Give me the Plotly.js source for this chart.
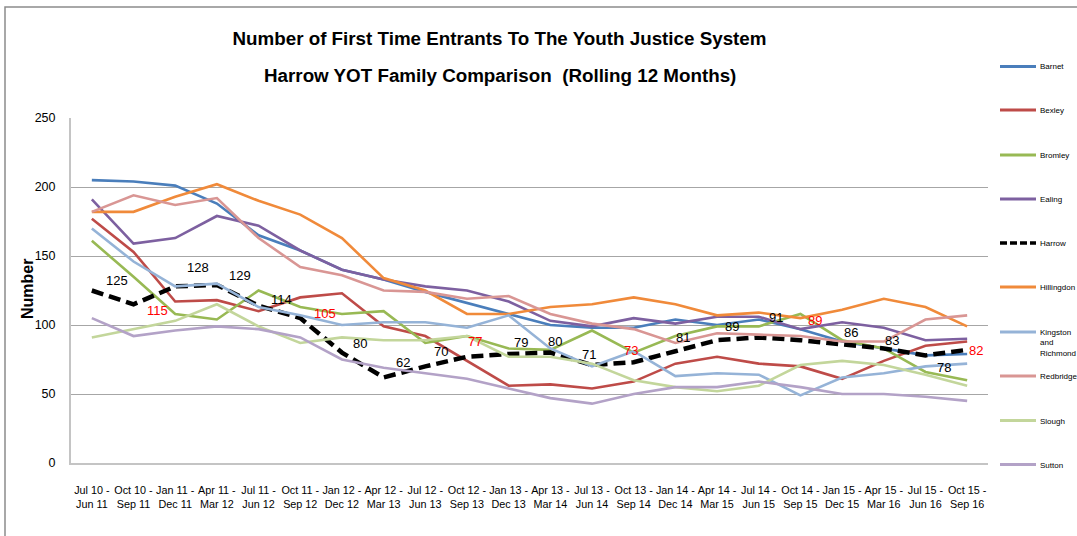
<!DOCTYPE html>
<html>
<head>
<meta charset="utf-8">
<script src="https://cdn.plot.ly/plotly-3.0.1.min.js"></script>
<style>html,body{margin:0;padding:0;background:#fff;}#chart{width:1077px;height:536px;}</style>
</head>
<body>
<div id="chart"></div>
<script>
// ---- data ----
const periodStart = ['Jul 10','Oct 10','Jan 11','Apr 11','Jul 11','Oct 11','Jan 12','Apr 12','Jul 12','Oct 12','Jan 13','Apr 13','Jul 13','Oct 13','Jan 14','Apr 14','Jul 14','Oct 14','Jan 15','Apr 15','Jul 15','Oct 15'];
const periodEnd = ['Jun 11','Sep 11','Dec 11','Mar 12','Jun 12','Sep 12','Dec 12','Mar 13','Jun 13','Sep 13','Dec 13','Mar 14','Jun 14','Sep 14','Dec 14','Mar 15','Jun 15','Sep 15','Dec 15','Mar 16','Jun 16','Sep 16'];

const barnet     = [205,204,201,188,165,154,140,133,124,116,108,100,98,98,104,100,104,97,88,83,78,79];
const bexley     = [177,153,117,118,110,120,123,99,92,74,56,57,54,59,72,77,72,70,61,74,85,88];
const bromley    = [161,135,108,104,125,113,108,110,87,92,83,82,96,80,92,99,99,108,89,83,66,60];
const ealing     = [191,159,163,179,172,154,140,133,128,125,117,103,99,105,101,106,106,97,102,98,89,90];
const harrow     = [125,115,128,129,114,105,80,62,70,77,79,80,71,73,81,89,91,89,86,83,78,82];
const hillingdon = [182,182,193,202,190,180,163,134,125,108,108,113,115,120,115,107,109,105,111,119,113,99];
const kingston   = [170,146,128,130,113,107,100,102,102,98,107,83,70,81,63,65,64,49,62,65,70,72];
const redbridge  = [182,194,187,192,163,142,136,125,124,119,121,108,101,97,87,94,93,92,88,88,104,107];
const slough     = [91,97,103,115,99,87,91,89,89,92,77,77,72,60,55,52,56,71,74,71,64,56];
const sutton     = [105,92,96,99,97,91,75,69,65,61,54,47,43,50,55,55,59,55,50,50,48,45];

const seriesNames = ['Barnet','Bexley','Bromley','Ealing','Harrow','Hillingdon','Kingston<br>and<br>Richmond','Redbridge','Slough','Sutton'];
const seriesValues = [barnet,bexley,bromley,ealing,harrow,hillingdon,kingston,redbridge,slough,sutton];

// ---- styles ----
const seriesColors = ['#4A7EBB','#BE4B48','#98B954','#7D60A0','#000000','#F08A3A','#95B3D7','#D99694','#C3D69B','#B3A2C7'];
const FONT = '"Liberation Sans", Arial, sans-serif';
// label offsets (px) for Harrow data labels: [dx, dy(down)]
const labelOffsets = [[25,-10],[24,6],[23,-19],[23,-9],[23,-6],[25,-5],[18,-9],[19,-15],[16,-15],[8,-15],[12,-11],[5,-11],[-3,-11],[-3,-12],[8,-14],[15,-14],[17,-20],[15,-20],[9,-12],[8,-8],[19,12],[9,1]];

const W = 1077, H = 536, ML = 71, MR = 89, MT = 118, MB = 73;
const PW = W - ML - MR, PH = H - MT - MB;
const px2x = p => (p - ML) / PW;
const px2y = p => (H - MB - p) / PH;

const cats = periodStart.map((s, i) => s + ' -<br>' + periodEnd[i]);

const traces = seriesValues.map((vals, i) => ({
  type: 'scatter', mode: 'lines',
  name: seriesNames[i].replace(/<br>/g, ' '),
  x: cats, y: vals,
  line: i === 4 ? {color: '#000', width: 4.5, dash: '12px,6px'} : {color: seriesColors[i], width: 2.6},
  hoverinfo: 'x+y+name', showlegend: false
}));

const annotations = [];
// Harrow data labels
harrow.forEach((v, i) => {
  annotations.push({
    x: cats[i], y: v, xref: 'x', yref: 'y', text: String(v), showarrow: false,
    xshift: labelOffsets[i][0], yshift: -labelOffsets[i][1],
    font: {family: FONT, size: 13, color: (i % 4 === 1) ? '#FF0000' : '#000000'}
  });
});
// second title line
annotations.push({
  xref: 'paper', yref: 'paper', x: px2x(499.5), y: px2y(75), xanchor: 'center', yanchor: 'middle',
  text: 'Harrow YOT Family Comparison  (Rolling 12 Months)', showarrow: false,
  font: {family: FONT, size: 18.8, color: '#000', weight: 'bold'}
});
// y axis title
annotations.push({
  xref: 'paper', yref: 'paper', x: px2x(27), y: px2y(289), xanchor: 'center', yanchor: 'middle',
  text: 'Number', textangle: -90, showarrow: false,
  font: {family: FONT, size: 16, color: '#000', weight: 'bold'}
});

// manual legend
const legendY = [66.5, 110, 155, 199, 243, 287, 332, 376, 420.5, 464.5];
const shapes = [];
seriesNames.forEach((n, i) => {
  shapes.push({
    type: 'line', xref: 'paper', yref: 'paper',
    x0: px2x(1000), x1: px2x(1036), y0: px2y(legendY[i]), y1: px2y(legendY[i]),
    line: i === 4 ? {color: '#000', width: 3.5, dash: '7px,3px'} : {color: seriesColors[i], width: 3}
  });
  annotations.push({
    xref: 'paper', yref: 'paper', x: px2x(1038), y: px2y(legendY[i] - 6), xanchor: 'left', yanchor: 'top',
    align: 'left', text: n, showarrow: false,
    font: {family: FONT, size: 8, color: '#000'}
  });
});
// outer frame
shapes.push({
  type: 'rect', xref: 'paper', yref: 'paper',
  x0: px2x(5), x1: px2x(1085), y0: px2y(7), y1: px2y(545),
  line: {color: '#8C8C8C', width: 1.5}, layer: 'below'
});

const layout = {
  width: W, height: H,
  margin: {l: ML, r: MR, t: MT, b: MB, autoexpand: false},
  paper_bgcolor: '#fff', plot_bgcolor: '#fff',
  showlegend: false,
  title: {
    text: 'Number of First Time Entrants To The Youth Justice System',
    xref: 'container', yref: 'container', x: 499.5 / W, y: 1 - 38 / H, xanchor: 'center', yanchor: 'middle',
    font: {family: FONT, size: 18.8, color: '#000', weight: 'bold'}
  },
  xaxis: {
    type: 'category', range: [-0.5, cats.length - 0.5], showgrid: false, zeroline: false,
    showline: true, linecolor: '#C4C4C4', linewidth: 2, ticks: '', tickangle: 0,
    ticklabelstandoff: 16,
    tickfont: {family: FONT, size: 10.8, color: '#000'}, automargin: false, fixedrange: true
  },
  yaxis: {
    range: [0, 250], dtick: 50, tick0: 0, showgrid: true, gridcolor: '#A6A6A6', gridwidth: 1,
    zeroline: false, showline: true, linecolor: '#C4C4C4', linewidth: 2, ticks: '',
    ticklabelstandoff: 11,
    tickfont: {family: FONT, size: 12.5, color: '#000'},
    automargin: false, fixedrange: true
  },
  annotations: annotations,
  shapes: shapes
};

Plotly.newPlot('chart', traces, layout, {displayModeBar: false, staticPlot: true});
</script>
</body>
</html>
